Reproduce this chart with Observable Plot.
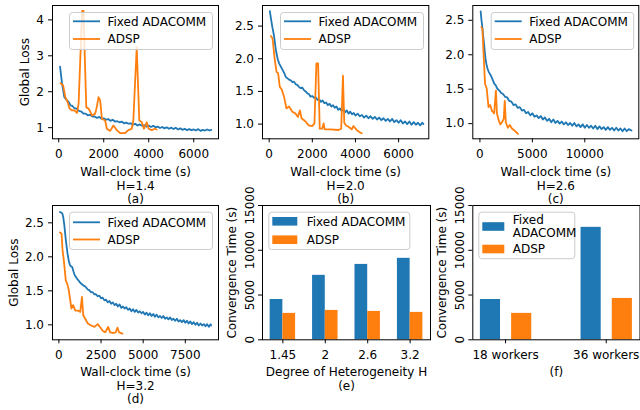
<!DOCTYPE html>
<html><head><meta charset="utf-8">
<script src="https://cdn.jsdelivr.net/npm/d3@7"></script>
<script src="https://cdn.jsdelivr.net/npm/@observablehq/plot@0.6"></script>
<style>
html,body{margin:0;padding:0;background:#fff;}
#fig{position:relative;width:640px;height:410px;overflow:hidden;background:#fff;}
</style></head><body><div id="fig"></div>
<script>
// ---------------- DATA ----------------
const seriesNames = ["Fixed ADACOMM", "ADSP"];

// (a) H=1.4
const lossA_fixed = [[60,2.70],[150,2.22],[250,1.85],[370,1.76],[450,1.71],[520,1.62],[600,1.61],[700,1.54],[800,1.53],[900,1.47],[1000,1.45],[1100,1.39],[1200,1.39],[1300,1.34],[1400,1.36],[1500,1.31],[1600,1.31],[1700,1.27],[1800,1.30],[1900,1.25],[2000,1.26],[2100,1.22],[2200,1.24],[2300,1.19],[2400,1.22],[2500,1.17],[2600,1.18],[2700,1.15],[2800,1.17],[2900,1.12],[3000,1.14],[3100,1.11],[3200,1.12],[3300,1.08],[3400,1.11],[3500,1.06],[3600,1.09],[3700,1.05],[3800,1.07],[3900,1.03],[4000,1.06],[4100,1.02],[4200,1.05],[4300,1.01],[4400,1.03],[4500,0.99],[4600,1.02],[4700,0.98],[4800,1.01],[4900,0.97],[5000,1.00],[5100,0.96],[5200,1.00],[5300,0.95],[5400,0.98],[5500,0.94],[5600,0.97],[5700,0.93],[5800,0.96],[5900,0.93],[6000,0.95],[6100,0.92],[6200,0.96],[6300,0.91],[6400,0.94],[6500,0.92],[6600,0.95],[6700,0.92],[6780,0.94]];
const lossA_adsp = [[75,2.24],[194,2.18],[296,1.85],[398,1.71],[486,1.53],[592,1.48],[694,1.48],[813,1.41],[884,1.67],[1040,4.25],[1100,4.25],[1225,1.57],[1327,1.53],[1400,1.45],[1476,1.34],[1622,1.39],[1700,1.60],[1768,1.85],[1843,1.76],[1918,1.25],[2064,1.20],[2139,0.97],[2285,0.91],[2431,1.06],[2582,0.93],[2728,0.85],[2949,0.85],[3095,0.93],[3245,0.97],[3316,1.20],[3466,3.24],[3581,1.20],[3687,1.16],[3789,0.97],[3908,1.15],[3996,0.97],[4129,0.93],[4275,0.97],[4350,0.95]];

// (b) H=2.0
const lossB_fixed = [[30,2.73],[90,2.60],[150,2.48],[230,2.34],[300,2.16],[340,2.08],[400,1.99],[460,1.93],[540,1.88],[620,1.83],[700,1.78],[770,1.72],[850,1.70],[920,1.68],[1000,1.67],[1080,1.64],[1150,1.65],[1230,1.61],[1300,1.60],[1380,1.57],[1460,1.55],[1530,1.56],[1610,1.52],[1690,1.50],[1770,1.47],[1840,1.46],[1920,1.42],[2000,1.43],[2080,1.40],[2160,1.41],[2240,1.37],[2320,1.38],[2400,1.34],[2480,1.36],[2560,1.32],[2640,1.33],[2720,1.29],[2800,1.31],[2880,1.27],[2960,1.29],[3040,1.25],[3120,1.27],[3200,1.22],[3280,1.24],[3360,1.20],[3440,1.23],[3520,1.18],[3600,1.21],[3680,1.16],[3760,1.19],[3840,1.15],[3920,1.17],[4000,1.13],[4100,1.16],[4200,1.12],[4300,1.14],[4400,1.10],[4500,1.13],[4600,1.09],[4700,1.12],[4800,1.08],[4900,1.11],[5000,1.07],[5100,1.10],[5200,1.06],[5300,1.09],[5400,1.05],[5500,1.08],[5600,1.04],[5700,1.08],[5800,1.03],[5900,1.06],[6000,1.02],[6100,1.06],[6200,1.01],[6300,1.04],[6400,1.00],[6500,1.04],[6600,0.99],[6700,1.03],[6800,0.99],[6900,1.02],[7000,0.98],[7100,1.02],[7150,1.00]];
const lossB_adsp = [[78,2.35],[156,2.31],[262,1.98],[340,1.80],[413,1.78],[491,1.57],[583,1.53],[689,1.42],[799,1.24],[918,1.27],[1074,1.19],[1226,1.16],[1332,1.11],[1423,1.21],[1501,1.09],[1685,1.04],[1836,0.98],[1993,0.97],[2098,1.01],[2190,1.93],[2268,1.93],[2342,0.93],[2452,0.93],[2525,1.01],[2571,0.92],[2833,0.92],[3214,0.91],[3338,0.93],[3420,1.74],[3480,1.02],[3568,0.98],[3673,0.96],[3829,0.92],[3903,0.97],[4059,0.91],[4178,0.88],[4288,0.86]];

// (c) H=2.6
const lossC_fixed = [[70,2.63],[150,2.50],[230,2.40],[310,2.27],[390,2.16],[470,2.03],[550,1.92],[640,1.85],[720,1.80],[820,1.76],[920,1.73],[1040,1.70],[1150,1.66],[1260,1.62],[1360,1.58],[1500,1.56],[1650,1.51],[1850,1.48],[2000,1.45],[2200,1.43],[2400,1.39],[2600,1.38],[2800,1.33],[3000,1.32],[3200,1.27],[3400,1.28],[3600,1.23],[3800,1.24],[4000,1.19],[4200,1.20],[4400,1.15],[4600,1.17],[4800,1.12],[5000,1.15],[5200,1.10],[5400,1.12],[5600,1.08],[5800,1.11],[6000,1.06],[6200,1.09],[6400,1.04],[6600,1.07],[6800,1.02],[7000,1.06],[7200,1.01],[7400,1.04],[7600,1.00],[7800,1.03],[8000,0.99],[8200,1.02],[8400,0.98],[8600,1.01],[8800,0.97],[9000,1.01],[9200,0.96],[9400,0.99],[9600,0.95],[9800,0.99],[10000,0.94],[10200,0.98],[10400,0.94],[10600,0.97],[10800,0.93],[11000,0.97],[11200,0.92],[11400,0.96],[11600,0.92],[11800,0.95],[12000,0.91],[12200,0.95],[12400,0.91],[12600,0.94],[12800,0.90],[13000,0.94],[13200,0.90],[13400,0.93],[13600,0.89],[13800,0.93],[14000,0.89],[14200,0.92],[14450,0.90]];
const lossC_adsp = [[136,2.40],[233,2.38],[388,1.89],[485,1.58],[650,1.51],[816,1.24],[971,1.27],[1136,1.19],[1359,1.15],[1524,1.48],[1621,1.15],[1786,1.05],[1942,0.99],[2107,1.02],[2272,1.07],[2369,1.33],[2466,1.02],[2660,0.94],[2854,0.98],[3049,0.93],[3301,0.90],[3631,0.85]];

// (d) H=3.2
const lossD_fixed = [[60,2.66],[200,2.64],[260,2.58],[320,2.47],[410,2.25],[510,2.05],[580,1.95],[650,1.88],[720,1.86],[790,1.85],[870,1.78],[940,1.73],[1020,1.70],[1100,1.67],[1180,1.65],[1260,1.62],[1350,1.60],[1440,1.58],[1530,1.57],[1620,1.55],[1710,1.52],[1800,1.51],[1900,1.48],[2000,1.48],[2100,1.45],[2200,1.45],[2300,1.42],[2400,1.43],[2500,1.39],[2600,1.40],[2700,1.36],[2800,1.37],[2900,1.33],[3000,1.35],[3100,1.31],[3200,1.33],[3300,1.29],[3400,1.31],[3500,1.27],[3600,1.30],[3700,1.25],[3800,1.27],[3900,1.24],[4000,1.26],[4100,1.22],[4200,1.24],[4300,1.20],[4400,1.23],[4500,1.19],[4600,1.22],[4700,1.18],[4800,1.20],[4900,1.17],[5000,1.19],[5100,1.15],[5200,1.18],[5300,1.14],[5400,1.17],[5500,1.13],[5600,1.16],[5700,1.12],[5800,1.15],[5900,1.11],[6000,1.13],[6100,1.10],[6200,1.13],[6300,1.09],[6400,1.11],[6500,1.08],[6600,1.11],[6700,1.07],[6800,1.09],[6900,1.06],[7000,1.09],[7100,1.05],[7200,1.07],[7300,1.04],[7400,1.07],[7500,1.03],[7600,1.06],[7700,1.02],[7800,1.05],[7900,1.01],[8000,1.04],[8100,1.00],[8200,1.03],[8300,0.99],[8400,1.02],[8500,0.99],[8600,1.01],[8700,0.98],[8800,1.01],[8900,0.97],[9000,1.01],[9030,0.99]];
const lossD_adsp = [[58,2.36],[158,2.34],[216,2.10],[292,1.95],[351,1.80],[409,1.65],[491,1.61],[585,1.51],[643,1.41],[743,1.24],[842,1.29],[977,1.21],[1135,1.21],[1269,1.19],[1368,1.41],[1444,1.14],[1561,1.09],[1719,1.02],[1912,0.99],[2105,0.97],[2304,1.01],[2456,0.96],[2614,0.91],[2749,0.89],[2924,0.97],[3041,0.89],[3240,0.88],[3374,0.89],[3474,0.96],[3567,0.89],[3766,0.87]];

// (e) convergence time vs heterogeneity
const heteroCats = ["1.45", "2", "2.6", "3.2"];
const convE_fixed = [4500, 7200, 8420, 9100];
const convE_adsp = [2950, 3280, 3170, 3060];

// (f) convergence time vs workers
const workerCats = ["18 workers", "36 workers"];
const convF_fixed = [4500, 12560];
const convF_adsp = [2950, 4620];

const convTicks = [0, 5000, 10000, 15000];

// ---------------- RENDER ----------------
const FONT_CSS = `"DejaVu Sans", sans-serif`;
const FS = 12;
const BLUE = "#1f77b4", ORANGE = "#ff7f0e";
const LW = 1.8;
const fig = document.getElementById("fig");
const baseStyle = {background: "transparent", fontFamily: FONT_CSS, fontSize: FS + "px", overflow: "visible", color: "black"};

function place(svg, left, top) {
  svg.style.position = "absolute";
  svg.style.left = left + "px";
  svg.style.top = top + "px";
  fig.appendChild(svg);
}

function linePanel(o) {
  const [cl, ct, cw, ch] = o.cell;
  const [fl, ft, fr, fb] = o.frame;
  const marks = [
    Plot.line(o.fixed, {x: d => d[0], y: d => d[1], stroke: BLUE, strokeWidth: LW}),
    Plot.line(o.adsp, {x: d => d[0], y: d => d[1], stroke: ORANGE, strokeWidth: LW}),
    Plot.frame({stroke: "black", strokeWidth: 1}),
    Plot.axisX({ticks: o.xTicks, tickSize: 4, tickPadding: 7, label: null, tickFormat: d => String(d)}),
    Plot.axisY({ticks: o.yTicks, tickSize: 4, tickPadding: 4.5, label: null, tickFormat: o.yFormat}),
    Plot.text([o.below], {text: d => d, frameAnchor: "bottom", lineAnchor: "top", dy: o.belowDy, lineHeight: 1.12, fontSize: FS})
  ];
  if (o.ylabel) marks.push(Plot.text([o.ylabel], {text: d => d, frameAnchor: "left", rotate: -90, dx: o.ylabelDx, textAnchor: "middle", lineAnchor: "middle", fontSize: FS}));
  const svg = Plot.plot({
    width: cw, height: ch,
    marginLeft: fl - cl, marginRight: cl + cw - fr, marginTop: ft - ct, marginBottom: ct + ch - fb,
    x: {domain: o.xDomain}, y: {domain: o.yDomain},
    style: baseStyle, marks
  });
  place(svg, cl, ct);
}

function barPanel(o) {
  const [cl, ct, cw, ch] = o.cell;
  const [fl, ft, fr, fb] = o.frame;
  const table = o.cats.map((c, i) => ({i, c, fixed: o.fixed[i], adsp: o.adsp[i]}));
  const marks = [
    Plot.rectY(table, {x1: d => d.i + o.bOff[0], x2: d => d.i + o.bOff[1], y: d => d.fixed, fill: BLUE}),
    Plot.rectY(table, {x1: d => d.i + o.oOff[0], x2: d => d.i + o.oOff[1], y: d => d.adsp, fill: ORANGE}),
    Plot.frame({stroke: "black", strokeWidth: 1}),
    Plot.axisX({ticks: table.map(d => d.i), tickSize: 4, tickPadding: 7, label: null, tickFormat: i => o.cats[i]}),
    Plot.axisY({ticks: convTicks, tickSize: 4, label: null, tickFormat: () => ""}),
    Plot.text(convTicks, {y: d => d, text: d => String(d), frameAnchor: "left", rotate: -90, dx: -12.6, textAnchor: "middle", lineAnchor: "middle", fontSize: FS}),
    Plot.text([o.below], {text: d => d, frameAnchor: "bottom", lineAnchor: "top", dy: 27, lineHeight: 1.12, fontSize: FS}),
    Plot.text([o.ylabel], {text: d => d, frameAnchor: "left", rotate: -90, dx: -30.5, textAnchor: "middle", lineAnchor: "middle", fontSize: FS})
  ];
  const svg = Plot.plot({
    width: cw, height: ch,
    marginLeft: fl - cl, marginRight: cl + cw - fr, marginTop: ft - ct, marginBottom: ct + ch - fb,
    x: {domain: o.xDomain}, y: {domain: [0, 15000]},
    style: baseStyle, marks
  });
  place(svg, cl, ct);
}

// Row 1
linePanel({cell: [0, 0, 220, 205], frame: [52, 5, 218, 138.3], xDomain: [-276, 7100], yDomain: [0.69, 4.40],
  xTicks: [0, 2000, 4000, 6000], yTicks: [1, 2, 3, 4], yFormat: d3.format("d"), belowDy: 28,
  fixed: lossA_fixed, adsp: lossA_adsp, below: "Wall-clock time (s)\nH=1.4\n(a)", ylabel: "Global Loss", ylabelDx: -27});
linePanel({cell: [220, 0, 210, 205], frame: [262, 5, 428.3, 138.3], xDomain: [-310, 7400], yDomain: [0.775, 2.815],
  xTicks: [0, 2000, 4000, 6000], yTicks: [1.0, 1.5, 2.0, 2.5], yFormat: d3.format(".1f"), belowDy: 28,
  fixed: lossB_fixed, adsp: lossB_adsp, below: "Wall-clock time (s)\nH=2.0\n(b)"});
linePanel({cell: [430, 0, 210, 205], frame: [472.3, 5, 638.3, 138.3], xDomain: [-680, 15150], yDomain: [0.78, 2.715],
  xTicks: [0, 5000, 10000], yTicks: [1.0, 1.5, 2.0, 2.5], yFormat: d3.format(".1f"), belowDy: 28,
  fixed: lossC_fixed, adsp: lossC_adsp, below: "Wall-clock time (s)\nH=2.6\n(c)"});

// Row 2
linePanel({cell: [0, 200, 220, 210], frame: [52, 205, 218, 339.3], xDomain: [-380, 9470], yDomain: [0.78, 2.755],
  xTicks: [0, 2500, 5000, 7500], yTicks: [1.0, 1.5, 2.0, 2.5], yFormat: d3.format(".1f"), belowDy: 27,
  fixed: lossD_fixed, adsp: lossD_adsp, below: "Wall-clock time (s)\nH=3.2\n(d)", ylabel: "Global Loss", ylabelDx: -38});
barPanel({cell: [220, 200, 210, 210], frame: [262, 205, 430, 339.3], xDomain: [-0.48, 3.48],
  cats: heteroCats, fixed: convE_fixed, adsp: convE_adsp, bOff: [-0.3, 0], oOff: [0, 0.3],
  below: "Degree of Heterogeneity H\n(e)", ylabel: "Convergence Time (s)"});
barPanel({cell: [430, 200, 210, 210], frame: [472.3, 205, 639.5, 339.3], xDomain: [-0.3255, 1.3355],
  cats: workerCats, fixed: convF_fixed, adsp: convF_adsp, bOff: [-0.25, -0.05], oOff: [0.06, 0.26],
  below: "(f)", ylabel: "Convergence Time (s)"});

// ---------------- LEGENDS (SVG overlay) ----------------
const legSvg = d3.create("svg")
  .attr("width", 640).attr("height", 410)
  .style("position", "absolute").style("left", "0px").style("top", "0px")
  .style("overflow", "visible")
  .attr("font-family", FONT_CSS).attr("font-size", FS);
fig.appendChild(legSvg.node());
const legCols = [BLUE, ORANGE];

function legBox(l, t, w, h) {
  legSvg.append("rect").attr("x", l + 0.5).attr("y", t + 0.5).attr("width", w - 1).attr("height", h - 1)
    .attr("rx", 3).attr("fill", "white").attr("fill-opacity", 0.8).attr("stroke", "#cccccc").attr("stroke-width", 1);
}
function legText(x, cy, s) {
  legSvg.append("text").attr("x", x).attr("y", cy).attr("dy", "0.36em").attr("fill", "black").text(s);
}
function lineLegend(l, t, w, h, rows) {
  legBox(l, t, w, h);
  rows.forEach((cy, k) => {
    legSvg.append("line").attr("x1", l + 4).attr("x2", l + 31).attr("y1", cy).attr("y2", cy)
      .attr("stroke", legCols[k]).attr("stroke-width", LW);
    legText(l + 38.5, cy, seriesNames[k]);
  });
}
function patchLegend(l, t, w, h, rows, pw, tx) {
  legBox(l, t, w, h);
  rows.forEach((r, k) => {
    legSvg.append("rect").attr("x", l + 4).attr("y", r.patch - 4.3).attr("width", pw).attr("height", 8.6).attr("fill", legCols[k]);
    r.lines.forEach(([s, cy]) => legText(l + tx, cy, s));
  });
}

lineLegend(69, 12, 144, 38, [21.3, 39]);
lineLegend(280, 12, 144, 38, [21.3, 39]);
lineLegend(490.7, 12, 143.5, 38, [21.3, 39]);
lineLegend(69, 211.7, 144, 38.3, [222.3, 239.5]);
patchLegend(268.3, 211.7, 142, 38.3, [
  {patch: 221.3, lines: [["Fixed ADACOMM", 221.3]]},
  {patch: 239.7, lines: [["ADSP", 239.7]]}
], 25, 38.4);
patchLegend(478.3, 211.7, 97, 47.5, [
  {patch: 226.5, lines: [["Fixed", 219.8], ["ADACOMM", 232.4]]},
  {patch: 249, lines: [["ADSP", 249]]}
], 22, 34.4);
</script></body></html>
